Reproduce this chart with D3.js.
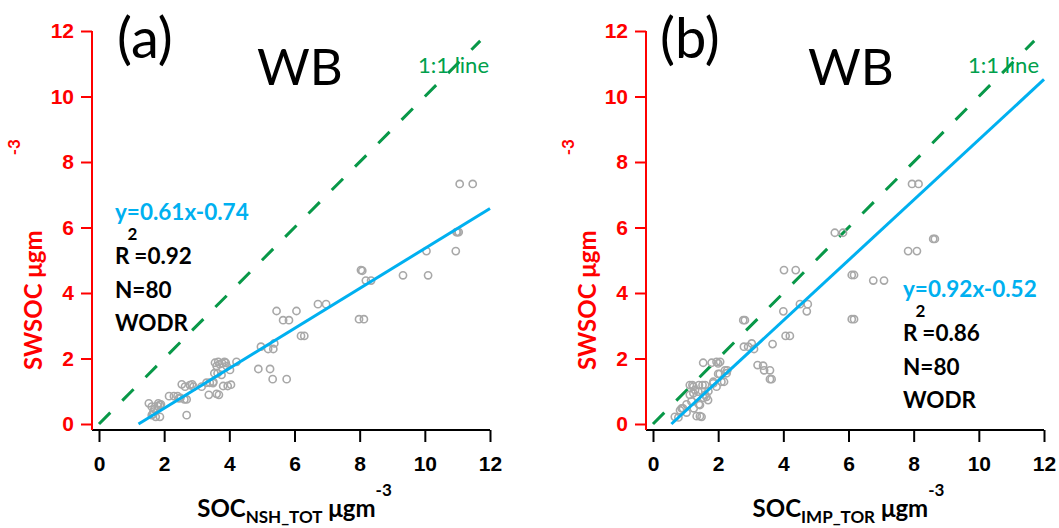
<!DOCTYPE html>
<html>
<head>
<meta charset="utf-8">
<script src="https://cdn.jsdelivr.net/npm/d3@7"></script>
<style>
  body { margin: 0; background: #fff; }
  svg { display: block; font-family: Lato, "Open Sans", sans-serif; }
</style>
</head>
<body>
<div id="chart"></div>
<script>
// axis ticks (both axes, both panels)
const ticks = [0, 2, 4, 6, 8, 10, 12];

// panel texts
const panelLabels = ["(a)", "(b)"];
const siteName = "WB";
const xSubscripts = ["NSH_TOT", "IMP_TOR"];
const slopes = [0.61, 0.92];
const intercepts = [-0.74, -0.52];
const r2Values = ["0.92", "0.86"];
const nValues = [80, 80];
const fitMethod = "WODR";

// panel (a): SOC_NSH_TOT vs SWSOC
const aX = [11.07, 11.47, 10.97, 11.04, 11.0, 10.95, 10.05, 9.33, 10.1, 8.04,
  8.08, 8.19, 8.35, 7.98, 8.13, 6.72, 6.97, 5.45, 6.06, 5.65,
  5.83, 6.2, 6.3, 4.97, 5.19, 5.35, 5.38, 4.89, 5.25, 5.33,
  5.76, 3.56, 3.66, 3.78, 3.89, 3.61, 3.92, 4.02, 4.22, 3.54,
  3.76, 3.81, 3.95, 3.61, 3.37, 3.68, 2.54, 2.64, 2.79, 2.86,
  3.15, 3.3, 3.4, 3.51, 2.15, 2.41, 2.45, 2.62, 2.69, 1.53,
  1.62, 1.82, 1.87, 1.67, 1.74, 1.87, 1.62, 2.69, 3.7, 3.85,
  3.64, 2.9, 2.5, 1.7, 1.8, 1.65, 4.05, 3.5, 2.3, 1.9];
const aY = [7.33, 7.33, 5.86, 5.86, 5.86, 5.28, 5.28, 4.54, 4.54, 4.7,
  4.68, 4.38, 4.38, 3.2, 3.2, 3.66, 3.66, 3.45, 3.45, 3.17,
  3.17, 2.69, 2.69, 2.36, 2.29, 2.29, 2.46, 1.68, 1.68, 1.37,
  1.37, 1.87, 1.9, 1.85, 1.87, 1.77, 1.77, 1.65, 1.9, 1.55,
  1.5, 1.16, 1.16, 0.92, 0.89, 0.89, 1.21, 1.14, 1.19, 1.21,
  1.14, 1.26, 1.26, 1.29, 0.85, 0.85, 0.78, 0.75, 0.75, 0.63,
  0.53, 0.63, 0.58, 0.38, 0.22, 0.22, 0.27, 0.27, 1.83, 1.9,
  1.55, 1.14, 0.8, 0.45, 0.55, 0.3, 1.2, 1.25, 0.85, 0.6];

// panel (b): SOC_IMP_TOR vs SWSOC
const bX = [7.95, 8.15, 5.58, 5.83, 8.6, 8.65, 7.83, 8.1, 6.1, 6.17,
  6.76, 7.09, 6.1, 6.17, 4.02, 4.38, 4.51, 4.75, 4.72, 4.0,
  2.77, 2.82, 4.07, 4.2, 3.67, 2.79, 2.92, 3.03, 3.1, 3.21,
  3.38, 3.41, 3.59, 3.59, 3.64, 1.54, 1.8, 1.95, 2.06, 2.0,
  2.05, 2.21, 2.28, 2.18, 1.95, 1.85, 1.13, 1.21, 1.41, 1.52,
  1.13, 1.29, 1.39, 1.64, 1.69, 1.41, 1.03, 0.88, 1.03, 0.67,
  0.78, 1.34, 1.44, 1.49, 2.26, 1.85, 2.1, 1.24, 1.6, 1.24,
  1.6, 1.18, 0.92, 1.44, 1.55, 0.83, 1.25, 2.0, 1.7, 1.35];
const bY = [7.33, 7.33, 5.84, 5.84, 5.65, 5.65, 5.28, 5.28, 4.55, 4.55,
  4.38, 4.38, 3.2, 3.2, 4.7, 4.7, 3.66, 3.66, 3.44, 3.44,
  3.17, 3.17, 2.69, 2.69, 2.44, 2.36, 2.36, 2.46, 2.29, 1.8,
  1.78, 1.64, 1.64, 1.37, 1.37, 1.87, 1.87, 1.9, 1.9, 1.53,
  1.53, 1.64, 1.64, 1.29, 1.14, 1.24, 1.19, 1.19, 1.19, 1.19,
  0.89, 1.04, 0.99, 0.83, 0.73, 0.6, 0.6, 0.48, 0.35, 0.22,
  0.2, 0.24, 0.24, 0.22, 1.55, 1.29, 1.29, 1.14, 1.19, 0.94,
  0.89, 0.69, 0.48, 0.58, 0.8, 0.42, 0.48, 1.85, 1.0, 0.85];

const red = "#ff0000";
const blue = "#00b0f0";
const green = "#00a04c";

const svg = d3.select("#chart").append("svg")
    .attr("width", 1059)
    .attr("height", 528);

function drawPanel(i, xs, ys, left) {
    const x = d3.scaleLinear().domain([0, 12]).range([left, left + 391]);
    const y = d3.scaleLinear().domain([0, 12]).range([424, 31]);
    const axisX = left - 7;
    const g = svg.append("g");

    // x axis
    const xa = g.append("g")
        .attr("transform", "translate(0,430)")
        .call(d3.axisBottom(x).tickValues(ticks).tickSize(12).tickSizeOuter(0).tickPadding(14));
    xa.select(".domain").remove();
    xa.selectAll(".tick line").attr("stroke", "#000").attr("stroke-width", 2);
    xa.selectAll(".tick text")
        .attr("fill", "#000")
        .style("font-size", "21px")
        .style("font-weight", "bold");
    g.append("line")
        .attr("x1", axisX).attr("x2", x(12))
        .attr("y1", 430).attr("y2", 430)
        .attr("stroke", "#000").attr("stroke-width", 2);

    // y axis
    const ya = g.append("g")
        .attr("transform", `translate(${axisX},0)`)
        .call(d3.axisLeft(y).tickValues(ticks).tickSize(11).tickSizeOuter(0).tickPadding(7));
    ya.select(".domain").remove();
    ya.selectAll(".tick line").attr("stroke", red).attr("stroke-width", 2);
    ya.selectAll(".tick text")
        .attr("fill", red)
        .style("font-size", "21px")
        .style("font-weight", "bold");
    g.append("line")
        .attr("x1", axisX).attr("x2", axisX)
        .attr("y1", y(12)).attr("y2", 430)
        .attr("stroke", red).attr("stroke-width", 2);

    // 1:1 line
    g.append("line")
        .attr("x1", x(0)).attr("y1", y(0))
        .attr("x2", x(11.7)).attr("y2", y(11.7))
        .attr("stroke", "#089848")
        .attr("stroke-width", 3)
        .attr("stroke-dasharray", "16,17");

    // points
    g.append("g").selectAll("circle")
        .data(xs.map((d, k) => [d, ys[k]]))
        .enter().append("circle")
        .attr("cx", d => x(d[0]))
        .attr("cy", d => y(d[1]))
        .attr("r", 3.6)
        .attr("fill", "none")
        .attr("stroke", "#a8a8a8")
        .attr("stroke-width", 1.6);

    // fit line
    const m = slopes[i], b = intercepts[i];
    const x0 = -b / m;
    g.append("line")
        .attr("x1", x(x0)).attr("y1", y(0))
        .attr("x2", x(12)).attr("y2", y(m * 12 + b))
        .attr("stroke", blue)
        .attr("stroke-width", 3);

    // titles
    g.append("text")
        .attr("x", i ? left + 7 : left + 18).attr("y", 58)
        .style("font-size", "56px")
        .text(panelLabels[i]);
    g.append("text")
        .attr("x", i ? left + 155 : left + 158).attr("y", 85)
        .style("font-size", "51px")
        .text(siteName);
    g.append("text")
        .attr("x", i ? left + 315 : left + 319).attr("y", 73)
        .attr("fill", green)
        .style("font-size", "22px")
        .text("1:1 line");

    // stats block
    const sx = i ? left + 250 : left + 16;
    const sy = i ? 297 : 220;
    const stats = g.append("g").style("font-size", "22.5px").style("font-weight", "bold");
    stats.append("text")
        .attr("x", sx).attr("y", sy)
        .attr("fill", blue)
        .text(`y=${m}x${b < 0 ? "-" : "+"}${Math.abs(b)}`);
    const r2 = stats.append("text").attr("x", sx).attr("y", sy + 44);
    r2.append("tspan").text("R");
    r2.append("tspan").attr("dx", -2).attr("dy", -24).style("font-size", "17px").text("2");
    r2.append("tspan").attr("dx", -3).attr("dy", 24).text("=" + r2Values[i]);
    stats.append("text").attr("x", sx).attr("y", sy + 78).text("N=" + nValues[i]);
    stats.append("text").attr("x", sx).attr("y", sy + 111).text(fitMethod);

    // x axis title
    const xt = g.append("text")
        .attr("x", (x(0) + x(12)) / 2).attr("y", 517)
        .attr("text-anchor", "middle")
        .style("font-size", "24px")
        .style("font-weight", "bold");
    xt.append("tspan").text("SOC");
    xt.append("tspan").attr("dy", 6).style("font-size", "17px").text(xSubscripts[i]);
    xt.append("tspan").attr("dy", -6).text(" \u03bcgm");
    xt.append("tspan").attr("dy", -21).style("font-size", "17px").text("-3");

    // y axis title
    const yt = g.append("text")
        .attr("transform", `translate(${left - 57},370) rotate(-90)`)
        .attr("fill", red)
        .style("font-size", "24px")
        .style("font-weight", "bold");
    yt.append("tspan").text("SWSOC \u03bcgm");
    yt.append("tspan").attr("dx", 75).attr("dy", -22).style("font-size", "17px").text("-3");
}

drawPanel(0, aX, aY, 99);
drawPanel(1, bX, bY, 653);
</script>
</body>
</html>
